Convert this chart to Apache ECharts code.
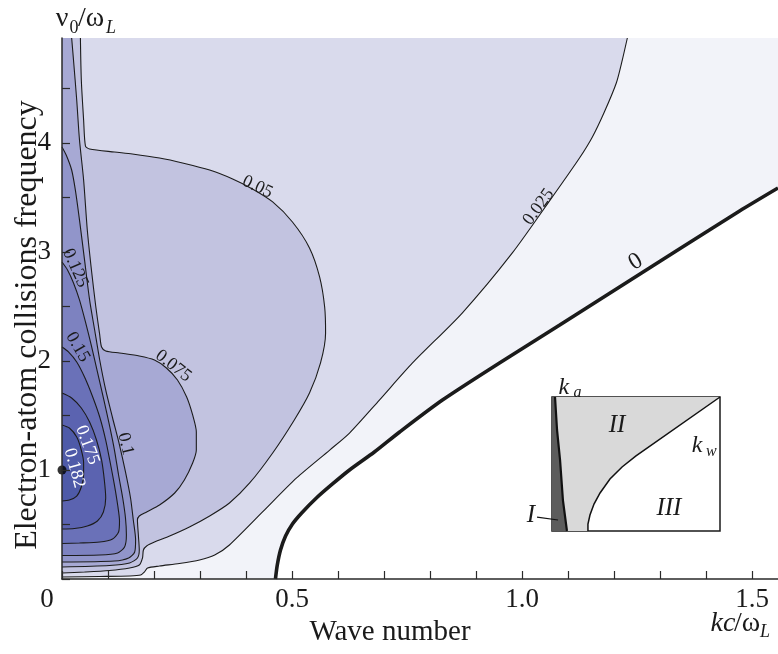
<!DOCTYPE html>
<html>
<head>
<meta charset="utf-8">
<script src="https://cdn.jsdelivr.net/npm/echarts@6/dist/echarts.min.js"></script>
<style>
  html, body { margin: 0; padding: 0; background: #fff; }
  #chart { width: 778px; height: 654px; }
</style>
</head>
<body>
<div id="chart"></div>
<script>
// Axis extents: kc/ωL horizontally, ν0/ωL vertically
const K_MAX = 1.5565;
const NU_MAX = 4.963;

// Axis ticks and labels
const xTickValues = [0, 0.1, 0.2, 0.3, 0.4, 0.5, 0.6, 0.7, 0.8, 0.9, 1.0, 1.1, 1.2, 1.3, 1.4, 1.5];
const xLabelValues = [0, 0.5, 1.0, 1.5];
const yTickValues = [0, 0.5, 1, 1.5, 2, 2.5, 3, 3.5, 4, 4.5];
const yLabelValues = [1, 2, 3, 4];

// Contour levels of the growth rate
const contourLevels = ['0', '0.025', '0.05', '0.075', '0.1', '0.125', '0.15', '0.175', '0.182'];

// Contour lines, points as [kc/ωL, ν0/ωL]
const line000 = [[0.464,0],[0.468,0.128],[0.475,0.266],[0.486,0.394],[0.501,0.505],[0.521,0.606],[0.553,0.743],[0.588,0.872],[0.625,1.0],[0.679,1.165],[0.734,1.349],[0.827,1.642],[0.951,1.982],[1.082,2.33],[1.212,2.679],[1.342,3.028],[1.473,3.376],[1.5565,3.587]];
const line025 = [[0,0.018],[0.082,0.023],[0.147,0.028],[0.171,0.037],[0.179,0.064],[0.186,0.101],[0.212,0.119],[0.255,0.142],[0.299,0.174],[0.332,0.22],[0.364,0.312],[0.436,0.615],[0.51,0.927],[0.582,1.183],[0.625,1.339],[0.69,1.642],[0.762,1.982],[0.87,2.44],[0.979,2.991],[1.066,3.505],[1.125,3.862],[1.153,4.055],[1.179,4.284],[1.205,4.55],[1.218,4.761],[1.229,4.963]];
const line050 = [[0,0.055],[0.049,0.064],[0.103,0.078],[0.147,0.101],[0.168,0.128],[0.175,0.193],[0.177,0.266],[0.184,0.303],[0.201,0.339],[0.234,0.394],[0.277,0.477],[0.321,0.578],[0.364,0.697],[0.408,0.881],[0.458,1.156],[0.505,1.459],[0.538,1.706],[0.562,1.982],[0.573,2.257],[0.571,2.495],[0.56,2.771],[0.538,3.037],[0.501,3.275],[0.458,3.459],[0.414,3.578],[0.371,3.67],[0.321,3.752],[0.262,3.817],[0.212,3.862],[0.153,3.899],[0.114,3.917],[0.06,3.945],[0.051,3.972],[0.047,4.211],[0.042,4.578],[0.04,4.963]];
const line075 = [[0,0.11],[0.103,0.124],[0.147,0.147],[0.164,0.193],[0.168,0.266],[0.166,0.404],[0.164,0.541],[0.168,0.578],[0.184,0.615],[0.212,0.679],[0.245,0.789],[0.266,0.908],[0.284,1.064],[0.292,1.183],[0.292,1.349],[0.284,1.505],[0.271,1.67],[0.251,1.826],[0.227,1.936],[0.201,2.009],[0.168,2.046],[0.125,2.073],[0.095,2.092],[0.086,2.128],[0.082,2.239],[0.073,2.514],[0.064,2.835],[0.055,3.202],[0.047,3.661],[0.038,4.028],[0.032,4.394],[0.025,4.761],[0.021,4.963]];
const line100 = [[0,0.156],[0.114,0.165],[0.145,0.193],[0.158,0.248],[0.16,0.358],[0.155,0.541],[0.149,0.743],[0.138,0.982],[0.125,1.229],[0.11,1.477],[0.095,1.734],[0.082,2.009],[0.071,2.284],[0.06,2.56],[0.049,2.927],[0.038,3.294],[0.029,3.569],[0.021,3.752],[0.01,3.881],[0,3.963]];
const line125 = [[0,0.216],[0.082,0.22],[0.121,0.239],[0.136,0.294],[0.14,0.404],[0.138,0.56],[0.132,0.743],[0.123,0.954],[0.114,1.183],[0.103,1.413],[0.09,1.661],[0.077,1.899],[0.064,2.138],[0.051,2.358],[0.038,2.56],[0.025,2.716],[0.012,2.835],[0,2.908]];
const line150 = [[0,0.326],[0.038,0.33],[0.082,0.339],[0.11,0.367],[0.123,0.431],[0.125,0.532],[0.121,0.679],[0.114,0.862],[0.105,1.064],[0.095,1.275],[0.082,1.486],[0.066,1.679],[0.049,1.853],[0.032,1.991],[0.014,2.083],[0,2.128]];
const line175 = [[0,0.459],[0.027,0.463],[0.055,0.486],[0.077,0.532],[0.09,0.615],[0.095,0.743],[0.092,0.908],[0.086,1.092],[0.075,1.275],[0.06,1.44],[0.042,1.569],[0.021,1.661],[0,1.706]];
const line182 = [[0,0.716],[0.016,0.725],[0.032,0.761],[0.042,0.844],[0.047,0.954],[0.047,1.064],[0.042,1.183],[0.032,1.303],[0.016,1.385],[0,1.413]];

// Where each level is written, and the marked maximum
const labelPoints = [[1.247,2.908],[1.036,3.413],[0.425,3.596],[0.242,1.954],[0.138,1.239],[0.029,2.853],[0.034,2.128],[0.055,1.229],[0.027,1.018]];
const maxPoint = [[0, 1]];

// Inset sketch of the regions, in unit coordinates of the inset frame
const insetKa = [[0.018,1.0],[0.03,0.754],[0.048,0.53],[0.065,0.231],[0.089,0.0]];
const insetKw = [[0.214,0],[0.214,0.052],[0.226,0.119],[0.25,0.201],[0.286,0.284],[0.345,0.388],[0.417,0.478],[0.5,0.56],[1,1]];
const insetLeader = [[-0.089,0.104],[0.036,0.082]];
const insetTexts = [
  { text: 'k', at: [0.071, 1.067], size: 24 },
  { text: 'a', at: [0.152, 1.035], size: 16 },
  { text: 'II', at: [0.387, 0.791], size: 25 },
  { text: 'k', at: [0.863, 0.634], size: 24 },
  { text: 'w', at: [0.948, 0.592], size: 16 },
  { text: 'III', at: [0.696, 0.172], size: 25 },
  { text: 'I', at: [-0.125, 0.119], size: 25 }
];

// ---- styling ----
const SERIF = '"Liberation Serif", "Times New Roman", serif';
const bandFill = ['#f2f3f9', '#d9daec', '#c2c3e0', '#a7a9d4', '#9195ca', '#7d82c0', '#6a71b8', '#5b63b0', '#4e5aa8'];
const labelRotation = [0.56, 0.94, -0.44, -0.66, -1.34, -1.15, -1.05, -1.22, -1.31];
const labelColor = ['#1a1a1a', '#1a1a1a', '#1a1a1a', '#1a1a1a', '#1a1a1a', '#1a1a1a', '#1a1a1a', '#ffffff', '#ffffff'];
const labelSize = [24, 18, 18, 18, 18, 18, 18, 18, 18];

const topLeft = [0, NU_MAX];
const topRight = [K_MAX, NU_MAX];
const lines = [line000, line025, line050, line075, line100, line125, line150, line175, line182];
// superlevel regions, closed against the plot frame
const regions = [
  line000.concat([topRight, topLeft, [0, 0]]),
  line025.concat([topLeft]),
  line050.concat([topLeft]),
  line075.concat([topLeft]),
  line100, line125, line150, line175, line182
];

const fillSeries = regions.map((poly, i) => ({
  type: 'custom', xAxisIndex: 0, yAxisIndex: 0, z: 2, silent: true, clip: true,
  data: [[0, 0]],
  renderItem: (p, api) => ({
    type: 'polygon',
    shape: { points: poly.map(pt => api.coord(pt)) },
    style: { fill: bandFill[i], stroke: null }
  })
}));

const lineSeries = lines.map((d, i) => ({
  type: 'line', xAxisIndex: 0, yAxisIndex: 0, data: d, symbol: 'none', silent: true, z: 3,
  smooth: 0.25,
  lineStyle: { color: '#1b1b1b', width: i === 0 ? 3.6 : 1.1 }
}));

const labelSeries = {
  type: 'custom', xAxisIndex: 0, yAxisIndex: 0, z: 4, silent: true, clip: false,
  data: labelPoints,
  renderItem: (p, api) => {
    const i = p.dataIndex;
    const c = api.coord([api.value(0), api.value(1)]);
    return {
      type: 'text', x: c[0], y: c[1], rotation: labelRotation[i],
      style: {
        text: contourLevels[i], fill: labelColor[i],
        font: labelSize[i] + 'px ' + SERIF,
        align: 'center', verticalAlign: 'middle', textAlign: 'center', textVerticalAlign: 'middle'
      }
    };
  }
};

const maxSeries = {
  type: 'scatter', xAxisIndex: 0, yAxisIndex: 0, data: maxPoint, symbolSize: 9, z: 6, clip: false, silent: true,
  itemStyle: { color: '#000' }
};

// inset
const insetRegionI = [[0, 0], [0, 1]].concat(insetKa);
const insetRegionII = insetKa.concat(insetKw);
const insetFill = (poly, color) => ({
  type: 'custom', xAxisIndex: 1, yAxisIndex: 1, z: 11, silent: true, clip: true,
  data: [[0, 0]],
  renderItem: (p, api) => ({
    type: 'polygon', shape: { points: poly.map(pt => api.coord(pt)) }, style: { fill: color }
  })
});
const insetLine = (d, w) => ({
  type: 'custom', xAxisIndex: 1, yAxisIndex: 1, z: 12, silent: true, clip: false,
  data: [[0, 0]],
  renderItem: (p, api) => ({
    type: 'polyline', shape: { points: d.map(pt => api.coord(pt)) },
    style: { stroke: '#111', lineWidth: w, fill: null }
  })
});
const insetTextSeries = {
  type: 'custom', xAxisIndex: 1, yAxisIndex: 1, z: 14, silent: true, clip: false,
  data: insetTexts.map(t => t.at),
  renderItem: (p, api) => {
    const t = insetTexts[p.dataIndex];
    const c = api.coord([api.value(0), api.value(1)]);
    return {
      type: 'text', x: c[0], y: c[1],
      style: {
        text: t.text, fill: '#1a1a1a', font: 'italic ' + t.size + 'px ' + SERIF,
        align: 'center', verticalAlign: 'middle', textAlign: 'center', textVerticalAlign: 'middle'
      }
    };
  }
};

const txt = (text, x, y, size, opts) => Object.assign({
  type: 'text', x: x, y: y, silent: true, z: 20,
  style: {
    text: text, fill: '#1a1a1a', font: (opts && opts.italic ? 'italic ' : '') + size + 'px ' + SERIF,
    align: 'center', verticalAlign: 'middle', textAlign: 'center', textVerticalAlign: 'middle'
  }
}, opts && opts.rotation ? { rotation: opts.rotation } : {});

const chart = echarts.init(document.getElementById('chart'), null, { renderer: 'canvas' });
chart.setOption({
  animation: false,
  backgroundColor: '#ffffff',
  grid: [
    { left: 62, top: 38, width: 716, height: 541, containLabel: false },
    { left: 552, top: 397, width: 168, height: 134, show: true, z: 10,
      backgroundColor: '#ffffff', borderColor: '#1a1a1a', borderWidth: 1.5 }
  ],
  xAxis: [
    {
      type: 'value', gridIndex: 0, min: 0, max: K_MAX, z: 8,
      splitLine: { show: false },
      axisLine: { show: true, onZero: false, lineStyle: { color: '#2a2a2a', width: 1.5 } },
      axisTick: { show: true, inside: true, length: 8, customValues: xTickValues, lineStyle: { color: '#2a2a2a', width: 1.2 } },
      axisLabel: {
        customValues: xLabelValues, margin: 7, color: '#1a1a1a', fontFamily: SERIF, fontSize: 27,
        formatter: v => (v === 0 ? '{z|0}' : v.toFixed(1)),
        rich: { z: { fontFamily: SERIF, fontSize: 27, color: '#1a1a1a', padding: [0, 30, 0, 0] } }
      }
    },
    { type: 'value', gridIndex: 1, min: 0, max: 1, show: false }
  ],
  yAxis: [
    {
      type: 'value', gridIndex: 0, min: 0, max: NU_MAX, z: 8,
      splitLine: { show: false },
      axisLine: { show: true, onZero: false, lineStyle: { color: '#2a2a2a', width: 1.5 } },
      axisTick: { show: true, inside: true, length: 8, customValues: yTickValues, lineStyle: { color: '#2a2a2a', width: 1.2 } },
      axisLabel: {
        customValues: yLabelValues, margin: 11, color: '#1a1a1a', fontFamily: SERIF, fontSize: 27,
        formatter: v => String(v)
      }
    },
    { type: 'value', gridIndex: 1, min: 0, max: 1, show: false }
  ],
  graphic: [
    txt('ν', 62, 19, 28),
    txt('0', 74, 28, 18),
    txt('/ω', 91, 19, 28),
    txt('L', 111, 28, 18, { italic: true }),
    txt('Electron-atom collisions frequency', 28, 325, 32, { rotation: Math.PI / 2 }),
    txt('Wave number', 390, 632, 29),
    txt('kc', 723, 624, 28, { italic: true }),
    txt('/ω', 747, 624, 28),
    txt('L', 765, 632, 18, { italic: true })
  ],
  series: fillSeries.concat(lineSeries, [labelSeries, maxSeries,
    insetFill(insetRegionI, '#5c5c5c'),
    insetFill(insetRegionII, '#d9d9d9'),
    insetLine(insetKa, 2.2),
    insetLine(insetKw, 1.5),
    insetLine(insetLeader, 1.2),
    insetTextSeries
  ])
});
</script>
</body>
</html>
